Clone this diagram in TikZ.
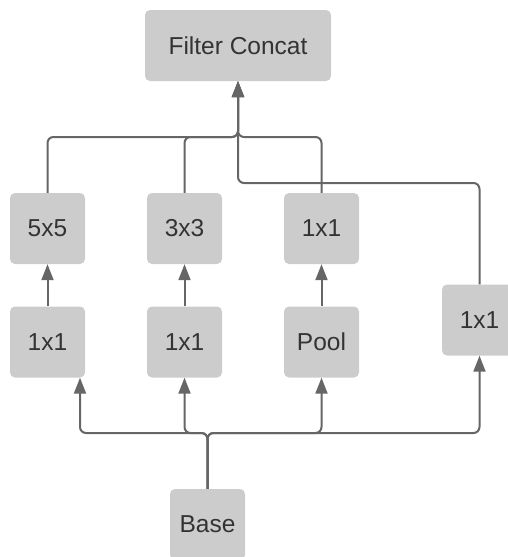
\documentclass[tikz,border=0pt]{standalone}
\usepackage{fontspec}
\setmainfont{Liberation Sans}
\usetikzlibrary{arrows.meta}
\definecolor{boxgray}{HTML}{CCCCCC}
\definecolor{linegray}{HTML}{666666}
\definecolor{textgray}{HTML}{333333}
\begin{document}
\begin{tikzpicture}[x=1pt, y=-1pt,
  box/.style = {fill=boxgray, rounded corners=5pt, minimum width=75pt, minimum height=71pt, text=textgray, font=\fontsize{24.5}{29}\selectfont, inner sep=0pt},
  link/.style = {draw=linegray, line width=2pt, rounded corners=6pt, -{Triangle[length=16pt,width=12pt]}}]
\useasboundingbox (0,0) rectangle (508,557);
\node[box, minimum width=186pt](concat) at (238,45.5){Filter Concat};
\node[box](f5) at (47.5,228.5){5x5};
\node[box](f3) at (184.5,228.5){3x3};
\node[box](f1) at (321.5,228.5){1x1};
\node[box](r5) at (47.5,342){1x1};
\node[box](r3) at (184.5,342){1x1};
\node[box](pool) at (321.5,342){Pool};
\node[box](side) at (479.5,320){1x1};
\node[box](base) at (207.5,524.5){Base};
\coordinate (join) at (238,137);
\coordinate (join2) at (238,183);
\coordinate (bus) at (207.5,433);
\draw[link] (f5.north) |- (join) -- (concat.south);
\draw[link] (f3.north) |- (join) -- (concat.south);
\draw[link] (f1.north) |- (join) -- (concat.south);
\draw[link] (side.north) |- (join2) -- (concat.south);
\draw[link] (r5.north) -- (f5.south);
\draw[link] (r3.north) -- (f3.south);
\draw[link] (pool.north) -- (f1.south);
\draw[link] (base.north) -- (bus) -| ([xshift=32.5pt]r5.south);
\draw[link] (base.north) -- (bus) -| (r3.south);
\draw[link] (base.north) -- (bus) -| (pool.south);
\draw[link] (base.north) -- (bus) -| (side.south);
\end{tikzpicture}
\end{document}
